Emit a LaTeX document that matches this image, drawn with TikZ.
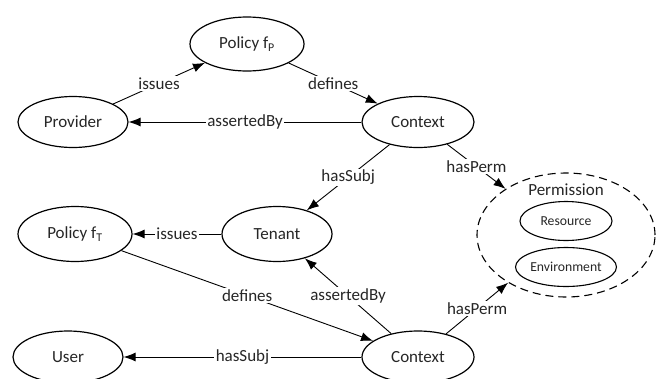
\documentclass[tikz,border=0pt]{standalone}
\usepackage{fontspec}
\setmainfont{Carlito}
\usetikzlibrary{shapes.geometric,arrows.meta}
\begin{document}
\begin{tikzpicture}[x=1pt,y=-1pt,
  ell/.style={ellipse,draw,line width=1.2pt,inner sep=0pt,text=black!85,font=\fontsize{17}{20}\selectfont},
  smallell/.style={ellipse,draw,line width=1.1pt,inner sep=0pt,minimum width=92pt,minimum height=39pt,text=black!85,font=\fontsize{13.7}{16}\selectfont},
  conn/.style={line width=0.9pt,-{Latex[length=12pt,width=9pt]}},
  lbl/.style={fill=white,inner sep=1.5pt,text=black!85,font=\fontsize{17}{20}\selectfont}]
\useasboundingbox (0,0) rectangle (664,378);
\clip (0,0) rectangle (664,378);
\node[ell,minimum width=114pt,minimum height=54pt] (pp) at (247,44) {Policy f\textsubscript{P}};
\node[ell,minimum width=110pt,minimum height=51pt] (prov) at (73,122) {Provider};
\node[ell,minimum width=112pt,minimum height=51pt] (ctx1) at (418,122) {Context};
\node[ell,minimum width=110pt,minimum height=55pt] (ten) at (277,234) {Tenant};
\node[ell,minimum width=114pt,minimum height=55pt] (pt) at (75,234) {Policy f\textsubscript{T}};
\node[ell,minimum width=110pt,minimum height=52pt] (user) at (68,357) {User};
\node[ell,minimum width=112pt,minimum height=52pt] (ctx2) at (418,357) {Context};
\node[ellipse,draw,line width=1.1pt,dash pattern=on 8pt off 5pt,minimum width=178pt,minimum height=124pt,inner sep=0pt] (perm) at (566,235) {};
\node[lbl,fill=none] (permlbl) at (566,190) {Permission};
\node[smallell] (res) at (566,221) {Resource};
\node[smallell] (env) at (566,267) {Environment};

\draw[conn] (prov) -- node[lbl]{issues} (pp);
\draw[conn] (pp) -- node[lbl]{defines} (ctx1);
\draw[conn] (ctx1) -- node[lbl]{assertedBy} (prov);
\draw[conn] (ctx1) -- node[lbl]{hasSubj} (ten);
\draw[conn] (ctx1) -- node[lbl]{hasPerm} (perm);
\draw[conn] (ten) -- node[lbl]{issues} (pt);
\draw[conn] (pt) -- node[lbl]{defines} (ctx2);
\draw[conn] (ctx2) -- node[lbl]{assertedBy} (ten);
\draw[conn] (ctx2) -- node[lbl]{hasPerm} (perm);
\draw[conn] (ctx2) -- node[lbl]{hasSubj} (user);
\end{tikzpicture}
\end{document}
